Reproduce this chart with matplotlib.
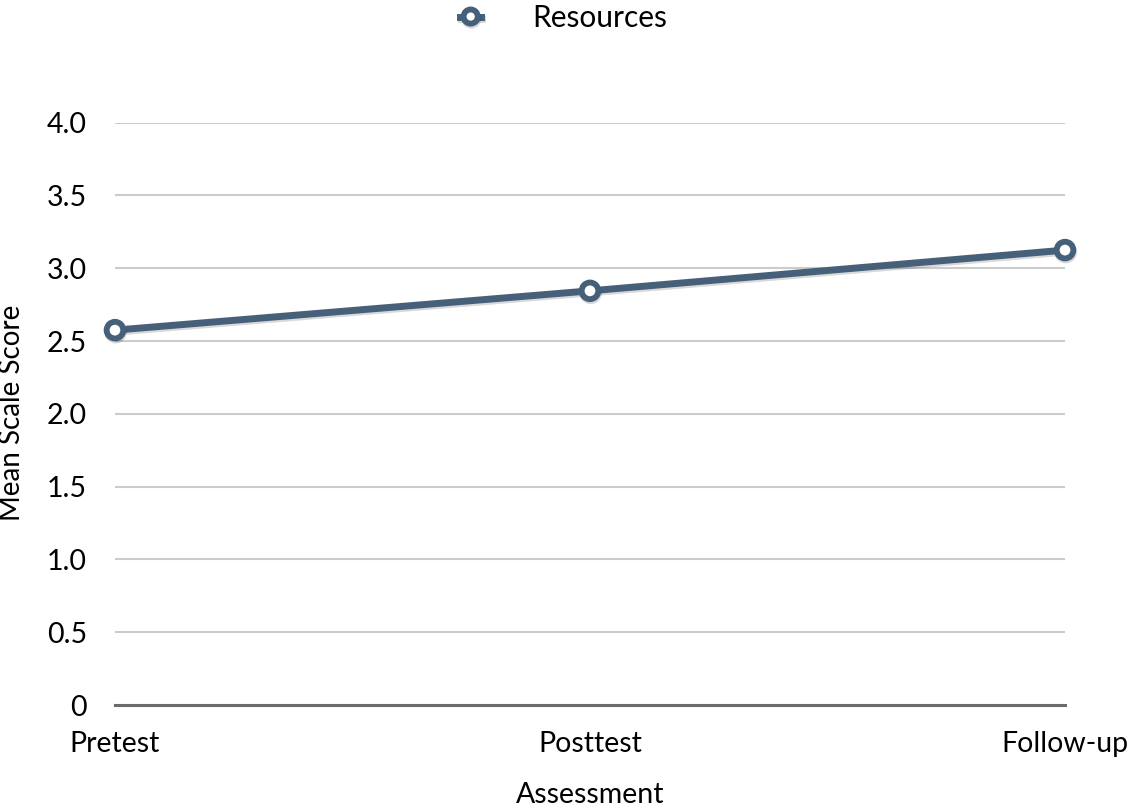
import matplotlib
matplotlib.use("Agg")
import matplotlib.pyplot as plt
import matplotlib.patheffects as pe

categories = ["Pretest", "Posttest", "Follow-up"]
resources = [2.575, 2.845, 3.125]
yticks = [0, 0.5, 1.0, 1.5, 2.0, 2.5, 3.0, 3.5, 4.0]
ytick_labels = ["0", "0.5", "1.0", "1.5", "2.0", "2.5", "3.0", "3.5", "4.0"]

plt.rcParams['font.family'] = ['Lato', 'DejaVu Sans']

fig = plt.figure(figsize=(11.27, 8.11), dpi=100)
ax = fig.add_axes([0.102, 0.1307, 0.843, 0.718])

line_color = "#46607A"
x = list(range(len(categories)))
ax.plot(x, resources, color=line_color, lw=5, marker='o', markersize=12,
        markerfacecolor='white', markeredgecolor=line_color, markeredgewidth=4.2,
        label="Resources", zorder=5, clip_on=False,
        path_effects=[pe.SimpleLineShadow(offset=(0.5, -1.5), shadow_color='black', alpha=0.15),
                      pe.Normal()])

ax.set_xlim(0, 2)
ax.set_ylim(0, 4)
ax.set_yticks(yticks)
ax.set_yticklabels(ytick_labels)
ax.set_xticks(x)
ax.set_xticklabels(categories)

for y in yticks[1:]:
    ax.axhline(y, color="#cccccc", lw=1.5, zorder=1)
ax.axhline(0, color="#6b6b6b", lw=2.2, zorder=2, clip_on=False)

for s in ax.spines.values():
    s.set_visible(False)
ax.tick_params(axis='both', length=0, labelsize=20.5, colors='black')
ax.tick_params(axis='y', pad=20)
ax.tick_params(axis='x', pad=19)

fig.text(12 / 1127, 1 - 413 / 811, "Mean Scale Score", rotation=90,
         fontsize=20, ha='center', va='center')
fig.text(0.5 * (115 + 1065) / 1127, 1 - 795 / 811, "Assessment",
         fontsize=20.5, ha='center', va='center')

fig.legend(loc='center', bbox_to_anchor=(0.5, 1 - 18 / 811), frameon=False,
           fontsize=21.5, handlelength=0.7, handletextpad=1.7, markerscale=0.85)

fig.savefig("out.png", dpi=100, facecolor='white')
